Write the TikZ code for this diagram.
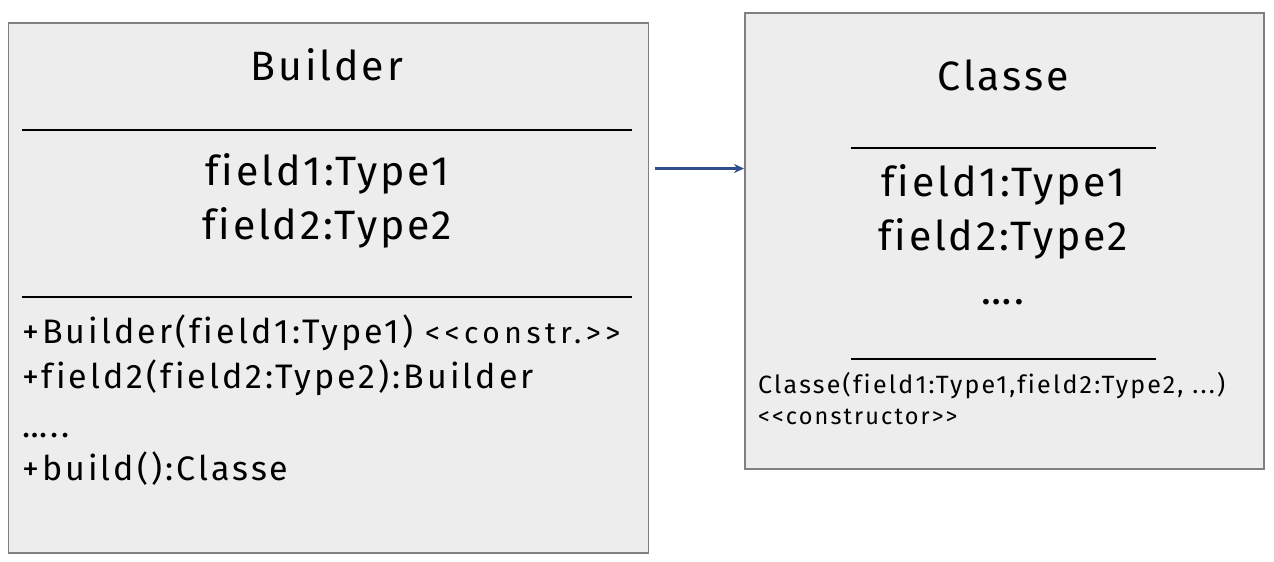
\documentclass[tikz,border=0pt]{standalone}
\usepackage{fontspec}
\setmainfont{Fira Sans}[Ligatures=NoCommon]
\newfontfamily\bigfam{Fira Sans}[Ligatures=NoCommon, LetterSpace=7]
\newfontfamily\midfam{Fira Sans}[Ligatures=NoCommon, LetterSpace=9]
\newfontfamily\widefam{Fira Sans}[Ligatures=NoCommon, LetterSpace=15]
\usetikzlibrary{arrows.meta}
\definecolor{boxfill}{HTML}{EDEDED}
\definecolor{boxline}{HTML}{808080}
\definecolor{arrowblue}{HTML}{2F4F8C}
\tikzset{
  umlbox/.style={draw=boxline, fill=boxfill, line width=1.5pt, rectangle, inner sep=0pt},
  sepline/.style={line width=2.6pt, black},
  big/.style={font=\bigfam\fontsize{41}{44}\selectfont, inner sep=0pt, anchor=base},
  mid/.style={font=\midfam\fontsize{34}{36}\selectfont, inner sep=0pt, anchor=base west},
  small/.style={font=\midfam\fontsize{25}{27}\selectfont, inner sep=0pt, anchor=base west},
  conn/.style={arrowblue, line width=2.2pt, -{Stealth[length=10pt,width=9pt]}}
}
\begin{document}
\begin{tikzpicture}[x=1pt,y=-1pt]
\useasboundingbox (0,0) rectangle (1274,562);
% boxes
\node[umlbox, minimum width=640pt, minimum height=530pt, anchor=north west] (builder) at (7.5,22) {};
\node[umlbox, minimum width=519pt, minimum height=456pt, anchor=north west] (classe) at (744,12) {};
% Builder content
\node[big] (bname) at (327,80) {Builder};
\draw[sepline] (22,130) -- (632,130);
\node[big] (bf1) at (327,185) {field1:Type1};
\node[big] (bf2) at (327,239) {field2:Type2};
\draw[sepline] (22,297) -- (632,297);
\node[mid] (bm1) at (22,343) {+Builder(field1:Type1) {\widefam\fontsize{30}{32}\selectfont {<}{<}constr.{>}{>}}};
\node[mid] (bm2) at (22,388) {+field2(field2:Type2):Builder};
\node[mid] (bm3) at (22,437) {…..};
\node[mid] (bm4) at (22,480) {+build():Classe};
% Classe content
\node[big] (cname) at (1003,90) {Classe};
\draw[sepline] (851,148) -- (1156,148);
\node[big] (cf1) at (1003,196) {field1:Type1};
\node[big] (cf2) at (1003,250) {field2:Type2};
\node[big] (cdots) at (1003,304) {….};
\draw[sepline] (851,359) -- (1156,359);
\node[small] (cc1) at (758,393) {Classe(field1:Type1,field2:Type2, ...)};
\node[small, font=\midfam\fontsize{23.5}{26}\selectfont] (cc2) at (758,424) {{<}{<}constructor{>}{>}};
% connector
\coordinate (ay) at (0,168.5);
\draw[conn, shorten <=5.5pt] (builder.east |- ay) -- (classe.west |- ay);
\end{tikzpicture}
\end{document}
